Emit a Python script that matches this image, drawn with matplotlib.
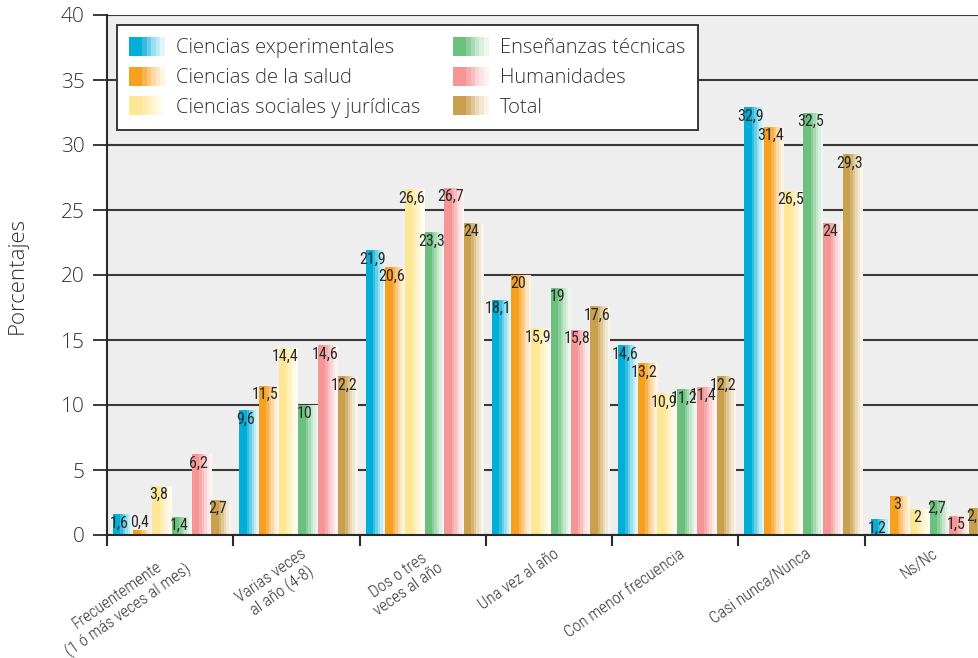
import matplotlib
matplotlib.use("Agg")
import matplotlib.pyplot as plt
import matplotlib.transforms as mtransforms
from matplotlib.legend_handler import HandlerBase
from matplotlib.patches import Rectangle, Patch
from matplotlib.colors import to_rgb
import numpy as np

categories = ["Frecuentemente\n(1 ó más veces al mes)", "Varias veces\nal año (4-8)",
              "Dos o tres\nveces al año", "Una vez al año", "Con menor frecuencia",
              "Casi nunca/Nunca", "Ns/Nc"]
series_names = ["Ciencias experimentales", "Ciencias de la salud",
                "Ciencias sociales y jurídicas", "Enseñanzas técnicas",
                "Humanidades", "Total"]
experimentales = [1.6, 9.6, 21.9, 18.1, 14.6, 32.9, 1.2]
salud = [0.4, 11.5, 20.6, 20, 13.2, 31.4, 3]
sociales = [3.8, 14.4, 26.6, 15.9, 10.9, 26.5, 2]
tecnicas = [1.4, 10, 23.3, 19, 11.2, 32.5, 2.7]
humanidades = [6.2, 14.6, 26.7, 15.8, 11.4, 24, 1.5]
total = [2.7, 12.2, 24, 17.6, 12.2, 29.3, 2.1]
colors = ["#00aed8", "#f7a020", "#fde795", "#6cc07e", "#f59596", "#c9a04e"]

all_series = [experimentales, salud, sociales, tecnicas, humanidades, total]

plt.rcParams['font.family'] = ['Open Sans', 'DejaVu Sans']
narrow = ['Roboto Condensed', 'Liberation Sans Narrow', 'DejaVu Sans']
txt = "#333333"

# banded gradient: solid on the left, fading to white on the right
fade = [0.0, 0.0, 0.0, 0.2, 0.4, 0.6, 0.75, 0.88]


def mix(c, t):
    r = np.array(to_rgb(c))
    return tuple(r * (1 - t) + t)


class GradHandler(HandlerBase):
    def create_artists(self, legend, orig_handle, xdescent, ydescent,
                       width, height, fontsize, trans):
        col = orig_handle.get_facecolor()
        n = len(fade)
        arts = []
        for k in range(n):
            r = Rectangle((-xdescent + k * width / n, -ydescent), width / n + 0.3, height,
                          facecolor=mix(col, fade[k]), edgecolor='none', transform=trans)
            arts.append(r)
        return arts


fig = plt.figure(figsize=(9.79, 6.58), dpi=100)
ax = fig.add_axes([107 / 979, 1 - 535 / 658, 884 / 979, 520 / 658])
ax.set_facecolor("#eeeeee")

x = np.arange(len(categories))
w = 0.156
nstr = len(fade)
for i, vals in enumerate(all_series):
    left = x - 3 * w + i * w + 0.015
    for k in range(nstr):
        ax.bar(left + k * w / nstr, vals, width=w / nstr * 1.05, align='edge',
               color=mix(colors[i], fade[k]), linewidth=0, zorder=3)
    for xi, v in zip(left, vals):
        s = ("%g" % v).replace(".", ",")
        if v < 1:
            ax.text(xi + w / 2 - 0.025, v, s, ha='center', va='bottom', fontsize=11.5,
                    color="#2a2a2a", family=narrow, zorder=4)
        else:
            ax.text(xi + w / 2 - 0.025, v - 0.1, s, ha='center', va='top', fontsize=11.5,
                    color="#2a2a2a", family=narrow, zorder=4)

ax.set_xlim(-0.5, 6.5)
ax.set_ylim(0, 40)
ax.set_yticks(range(0, 41, 5))
ax.yaxis.grid(True, color="#3a3a3a", linewidth=1.5, zorder=1)
ax.set_axisbelow(True)
for sp in ["top", "right"]:
    ax.spines[sp].set_visible(False)
for sp in ["left", "bottom"]:
    ax.spines[sp].set_color("#2a2a2a")
    ax.spines[sp].set_linewidth(1.5)
    ax.spines[sp].set_zorder(5)

ax.tick_params(axis='y', length=10, width=1.3, color="#2a2a2a", pad=6,
               labelsize=15, labelcolor=txt)
for lab in ax.get_yticklabels():
    lab.set_fontweight('light')
ax.set_xticks(x)
ax.set_xticklabels(categories, rotation=35, ha='right', va='top',
                   rotation_mode='anchor', multialignment='center',
                   fontsize=12, color=txt, family=narrow, fontweight='light')
ax.tick_params(axis='x', which='major', length=0, pad=8)
ax.set_xticks(np.arange(-0.5, 7, 1), minor=True)
ax.tick_params(axis='x', which='minor', length=8, width=1.5, color="#2a2a2a")
off = mtransforms.ScaledTranslation(4 / 100, 0, fig.dpi_scale_trans)
for lab in ax.get_xticklabels():
    lab.set_transform(lab.get_transform() + off)

ax.set_ylabel("Porcentajes", fontsize=16, color=txt, fontweight='light')
ax.yaxis.set_label_coords(-0.09, 0.5)

handles = [Patch(facecolor=c) for c in colors]
leg = ax.legend(handles, series_names, ncol=2, loc='upper left',
                bbox_to_anchor=(0.0113, 0.981), borderaxespad=0,
                frameon=True, prop={'size': 14.5, 'weight': 'light'},
                fancybox=False, edgecolor="#2a2a2a", framealpha=1,
                handlelength=1.75, handleheight=1.1, handletextpad=0.6,
                columnspacing=1.6, labelspacing=0.4, borderpad=0.6,
                handler_map={Patch: GradHandler()})
leg.get_frame().set_linewidth(1.3)
leg.set_zorder(6)
for t in leg.get_texts():
    t.set_color(txt)

fig.savefig("out.png", dpi=100)
